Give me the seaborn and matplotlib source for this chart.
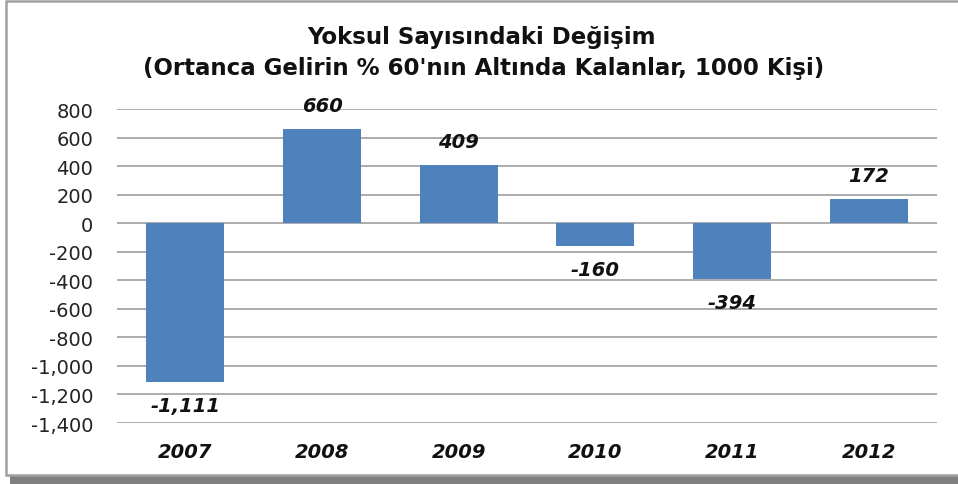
import matplotlib
matplotlib.use("Agg")
import matplotlib.pyplot as plt
import seaborn as sns
import pandas as pd
from matplotlib.patches import Rectangle

years = ["2007", "2008", "2009", "2010", "2011", "2012"]
values = [-1111, 660, 409, -160, -394, 172]
title_line1 = "Yoksul Sayısındaki Değişim"
title_line2 = "(Ortanca Gelirin % 60'nın Altında Kalanlar, 1000 Kişi)"
yticks = list(range(-1400, 801, 200))

sns.set_style("white")
plt.rcParams['font.family'] = ['DejaVu Sans']

W, H = 958, 485
fig = plt.figure(figsize=(W / 100, H / 100), dpi=100)
fig.patch.set_facecolor("white")

# frame with shadow
fig.patches.append(Rectangle((10 / W, 1 - 485 / H), 1.0, 477 / H, transform=fig.transFigure,
                             facecolor="#808080", edgecolor="none", zorder=-3))
fig.patches.append(Rectangle((6 / W, 1 - 476 / H), 1.0, 474 / H, transform=fig.transFigure,
                             facecolor="white", edgecolor="#a0a0a0", linewidth=1.8, zorder=-2))

ax = fig.add_axes([117 / W, 1 - 424 / H, 820 / W, 314 / H])
ax.set_facecolor("none")
df = pd.DataFrame({"year": years, "value": values})
sns.barplot(data=df, x="year", y="value", color="#4F81BD", saturation=1, width=0.57,
            ax=ax, zorder=3, edgecolor="none")

ax.set_ylim(-1400, 800)
ax.set_yticks(yticks)
ax.set_yticklabels([f"{v:,}" for v in yticks])
ax.set_xlim(-0.5, len(years) - 0.5)
ax.yaxis.grid(True, color="#a6a6a6", linewidth=1.3, zorder=0)
ax.set_axisbelow(True)
for s in ax.spines.values():
    s.set_visible(False)
ax.set_xlabel("")
ax.set_ylabel("")
ax.tick_params(axis="y", labelsize=14, colors="#222222", length=0, pad=17)
ax.tick_params(axis="x", length=0, pad=14)
for lab in ax.get_xticklabels():
    lab.set_fontsize(14)
    lab.set_fontweight("bold")
    lab.set_fontstyle("italic")
    lab.set_color("#111111")

ax.bar_label(ax.containers[0], labels=[f"{v:,}" for v in values], padding=10,
             fontsize=14, fontweight="bold", fontstyle="italic", color="#111111")

fig.text(481 / W, 1 - 38 / H, title_line1, ha="center", va="center",
         fontsize=16.5, fontweight="bold", color="#111111")
fig.text(484 / W, 1 - 69 / H, title_line2, ha="center", va="center",
         fontsize=16.5, fontweight="bold", color="#111111")

fig.savefig("out.png", dpi=100, facecolor="white")
